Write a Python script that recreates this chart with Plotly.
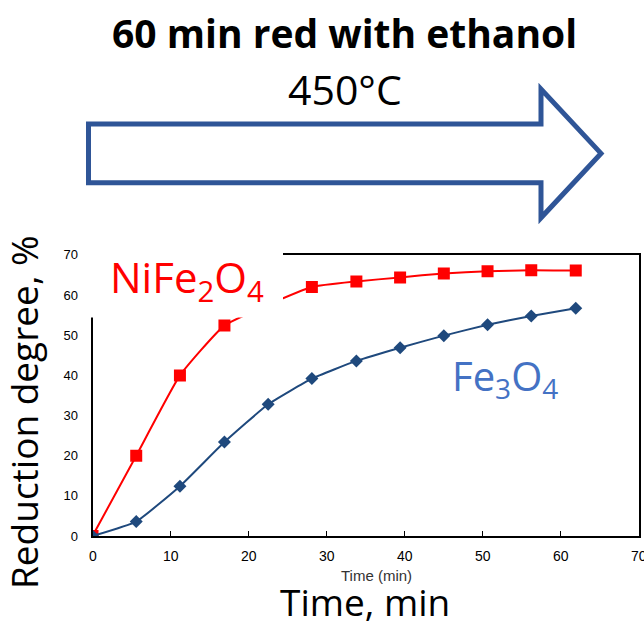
import plotly.graph_objects as go

# ---- data ----
time_nife = [0, 5.6, 11.2, 16.9, 28.1, 33.8, 39.4, 45.0, 50.6, 56.2, 61.9]
deg_nife = [0, 20.0, 40.0, 52.4, 62.0, 63.4, 64.4, 65.4, 65.9, 66.2, 66.1]
time_fe = [0, 5.6, 11.2, 16.9, 22.5, 28.1, 33.8, 39.4, 45.0, 50.6, 56.2, 61.9]
deg_fe = [0, 3.6, 12.4, 23.4, 32.8, 39.2, 43.6, 46.9, 49.9, 52.6, 54.8, 56.7]
x_ticks = [0, 10, 20, 30, 40, 50, 60, 70]
y_ticks = [0, 10, 20, 30, 40, 50, 60, 70]

W, H = 644, 626
def px(x):
    return x / W
def py(y):
    return 1 - y / H

RED = "#FF0000"
BLUE = "#1F497D"
ARROW = "#2F5597"

fig = go.Figure()
fig.add_trace(go.Scatter(x=time_nife, y=deg_nife, mode="lines+markers",
                         line=dict(color=RED, width=2, shape="spline", smoothing=0.4),
                         marker=dict(symbol="square", size=12, color=RED),
                         showlegend=False))
fig.add_trace(go.Scatter(x=time_fe, y=deg_fe, mode="lines+markers",
                         line=dict(color=BLUE, width=2, shape="spline", smoothing=0.4),
                         marker=dict(symbol="diamond", size=10, color=BLUE),
                         showlegend=False))

fig.update_layout(
    width=W, height=H, autosize=False,
    margin=dict(l=0, r=0, t=0, b=0),
    paper_bgcolor="white", plot_bgcolor="white",
    xaxis=dict(domain=[px(92.5), px(639)], range=[0, 70], tickvals=x_ticks,
               showticklabels=False,
               showgrid=False, zeroline=False, showline=True, linecolor="black",
               linewidth=2, mirror=True, ticks="inside", ticklen=5, tickwidth=1,
               tickcolor="black"),
    yaxis=dict(domain=[py(542), py(254)], range=[0, 70], tickvals=y_ticks,
               showgrid=False, zeroline=False, showline=True, linecolor="black",
               linewidth=2, mirror=True, ticks="",
               tickfont=dict(family="Liberation Sans, Arial", size=13, color="black"),
               ticklabelstandoff=10),
)

# x tick labels placed through the x scale
for v in x_ticks:
    fig.add_annotation(xref="x", yref="paper", x=v, y=py(562), text=str(v),
                       showarrow=False, xanchor="center", yanchor="middle",
                       font=dict(family="Liberation Sans, Arial", size=14, color="black"))

# white box hiding the top-left corner of the plot (behind NiFe2O4 label)
fig.add_shape(type="rect", xref="paper", yref="paper",
              x0=px(80), x1=px(283), y0=py(318), y1=py(246),
              fillcolor="white", line=dict(width=0), layer="above")

# big arrow
pts = [(88.5, 120), (541, 120), (541, 84), (601, 150), (541, 216), (541, 180), (88.5, 180)]
path = "M " + " L ".join(f"{px(x):.5f},{py(y):.5f}" for x, y in pts) + " Z"
fig.add_shape(type="path", xref="paper", yref="paper", path=path,
              line=dict(color=ARROW, width=5), fillcolor="white", layer="above")

ann = []
ann.append(dict(text="<b>60 min red with ethanol</b>", x=px(344), y=py(26),
                font=dict(family="Open Sans", size=39, color="black")))
ann.append(dict(text="450°C", x=px(345), y=py(84),
                font=dict(family="Open Sans", size=41, color="black")))
ann.append(dict(text="NiFe<sub>2</sub>O<sub>4</sub>", x=px(187), y=py(279),
                font=dict(family="Open Sans", size=42, color=RED)))
ann.append(dict(text="Fe<sub>3</sub>O<sub>4</sub>", x=px(505), y=py(380),
                font=dict(family="Open Sans", size=40, color="#4472C4")))
ann.append(dict(text="Time (min)", x=px(376), y=py(582),
                font=dict(family="Liberation Sans, Arial", size=15, color="#333333")))
ann.append(dict(text="Time, min", x=px(365), y=py(609),
                font=dict(family="Open Sans", size=37, color="black")))
ann.append(dict(text="Reduction degree, %", x=px(23), y=py(415), textangle=-90,
                font=dict(family="Open Sans", size=37, color="black")))
for a in ann:
    fig.add_annotation(xref="paper", yref="paper", showarrow=False,
                       xanchor="center", yanchor="middle", **a)

fig.write_html("out.html")
